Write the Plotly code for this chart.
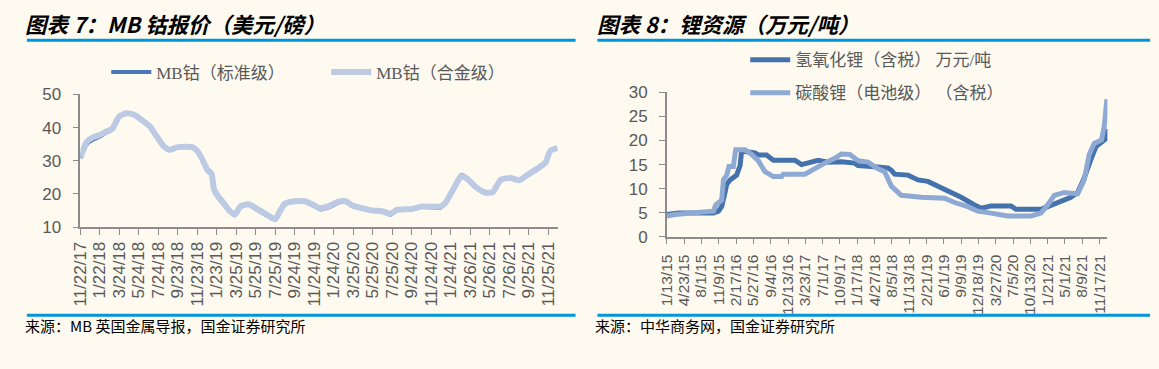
import pandas as pd
import plotly.graph_objects as go

# ---------------- Data: left chart (MB cobalt, USD/lb) ----------------
co_dates = ["2017-11-22", "2017-12-12", "2018-01-01", "2018-01-22", "2018-02-11", "2018-03-02",
            "2018-03-13", "2018-03-23", "2018-04-14", "2018-05-10", "2018-05-31", "2018-06-26",
            "2018-07-17", "2018-08-06", "2018-08-27", "2018-09-22", "2018-11-07", "2018-11-23",
            "2018-12-08", "2018-12-24", "2019-01-06", "2019-01-14", "2019-01-29", "2019-02-14",
            "2019-03-01", "2019-03-20", "2019-04-06", "2019-05-02", "2019-05-28", "2019-06-28",
            "2019-07-24", "2019-08-08", "2019-08-24", "2019-09-24", "2019-10-25", "2019-11-20",
            "2019-12-13", "2020-01-10", "2020-02-05", "2020-03-01", "2020-03-22", "2020-04-22",
            "2020-05-23", "2020-06-23", "2020-07-19", "2020-08-08", "2020-09-24", "2020-10-25",
            "2020-12-21", "2021-01-05", "2021-01-26", "2021-02-11", "2021-02-26", "2021-03-19",
            "2021-04-08", "2021-05-09", "2021-06-03", "2021-06-29", "2021-07-30", "2021-08-25",
            "2021-09-20", "2021-10-21", "2021-11-16", "2021-12-01", "2021-12-22"]
co_alloy = [31.0, 35.7, 37.1, 37.8, 38.8, 39.7, 41.6, 43.3, 44.3, 43.8, 42.4, 40.5,
            37.6, 34.8, 33.3, 34.1, 34.1, 32.9, 30.5, 27.3, 26.2, 21.4, 19.0, 17.1,
            15.2, 13.8, 16.2, 16.9, 15.5, 13.8, 12.4, 14.8, 17.1, 17.8, 17.8, 16.7,
            15.7, 16.4, 17.6, 17.8, 16.5, 15.7, 15.0, 14.8, 14.0, 15.2, 15.5, 16.2,
            16.2, 17.1, 20.5, 23.3, 25.4, 24.3, 22.4, 20.5, 20.5, 24.3, 24.8, 24.1,
            25.7, 27.6, 29.5, 33.0, 33.8]
co_std = [30.8, 35.0, 36.4, 37.3, 38.5, 39.5, 41.5, 43.3, 44.3, 43.8, 42.2, 40.2,
          37.4, 34.8, 33.3, 34.1, 34.1, 32.9, 30.3, 27.0, 25.8, 21.0, 18.6, 16.8,
          15.0, 13.6, 16.0, 16.8, 15.2, 13.5, 12.3, 14.8, 17.0, 17.8, 17.8, 16.6,
          15.3, 16.0, 17.3, 17.6, 16.3, 15.5, 14.9, 14.7, 13.7, 15.2, 15.3, 16.2,
          15.8, 17.3, 20.5, 23.5, 25.8, 24.5, 22.2, 20.4, 20.5, 24.3, 24.8, 24.1,
          25.7, 27.6, 29.5, 33.0, 33.8]
co_ticks = ["11/22/17", "1/22/18", "3/24/18", "5/24/18", "7/24/18", "9/23/18", "11/23/18",
            "1/23/19", "3/25/19", "5/25/19", "7/25/19", "9/24/19", "11/24/19", "1/24/20",
            "3/25/20", "5/25/20", "7/25/20", "9/24/20", "11/24/20", "1/24/21", "3/26/21",
            "5/26/21", "7/26/21", "9/25/21", "11/25/21"]

# ---------------- Data: right chart (lithium, 10k CNY/t) ----------------
lioh_dates = ["2015-01-13", "2015-03-21", "2015-06-06", "2015-10-09", "2015-11-07", "2015-11-26",
              "2015-12-15", "2015-12-25", "2016-01-13", "2016-02-20", "2016-03-11", "2016-03-20",
              "2016-04-28", "2016-06-05", "2016-06-24", "2016-08-11", "2016-09-19", "2017-01-22",
              "2017-03-01", "2017-04-28", "2017-06-05", "2017-08-02", "2017-10-18", "2018-01-02",
              "2018-01-22", "2018-04-08", "2018-07-13", "2018-08-02", "2018-08-21", "2018-11-06",
              "2019-01-03", "2019-03-01", "2019-06-05", "2019-09-09", "2019-11-25", "2020-01-03",
              "2020-02-29", "2020-06-23", "2020-07-22", "2020-12-13", "2021-01-21", "2021-03-19",
              "2021-06-04", "2021-07-13", "2021-08-20", "2021-09-28", "2021-10-27", "2021-12-14",
              "2021-12-22", "2021-12-29"]
lioh_vals = [4.6, 4.9, 4.9, 4.9, 5.3, 6.3, 9.2, 10.9, 11.8, 12.8, 14.8, 17.8,
             17.6, 17.4, 17.0, 17.0, 15.9, 15.9, 15.0, 15.6, 15.9, 15.5, 15.6, 15.3,
             14.8, 14.6, 14.3, 13.8, 13.0, 12.8, 11.8, 11.5, 9.9, 8.2, 6.6, 5.9,
             6.4, 6.4, 5.7, 5.7, 6.25, 7.1, 8.2, 9.2, 12.2, 16.1, 18.75, 20.1,
             20.3, 22.4]
li2co3_dates = ["2015-01-13", "2015-03-02", "2015-06-06", "2015-10-09", "2015-10-22", "2015-11-26",
                "2015-12-06", "2015-12-25", "2016-01-07", "2016-02-01", "2016-02-15", "2016-04-08",
                "2016-05-17", "2016-06-24", "2016-08-02", "2016-09-19", "2016-11-06", "2016-11-15",
                "2017-03-20", "2017-05-17", "2017-07-13", "2017-09-09", "2017-10-18", "2017-12-05",
                "2018-01-22", "2018-03-20", "2018-05-17", "2018-06-24", "2018-08-02", "2018-09-28",
                "2019-01-22", "2019-06-05", "2019-08-02", "2019-10-18", "2019-12-14", "2020-02-29",
                "2020-06-04", "2020-10-17", "2020-12-13", "2021-01-21", "2021-02-28", "2021-04-27",
                "2021-07-13", "2021-08-20", "2021-09-18", "2021-10-17", "2021-11-28", "2021-12-14",
                "2021-12-29"]
li2co3_vals = [4.3, 4.6, 4.9, 5.3, 6.6, 7.6, 11.8, 12.8, 14.6, 14.6, 18.1, 18.1,
               17.1, 15.8, 13.5, 12.5, 12.5, 13.0, 13.0, 14.3, 15.3, 16.3, 17.2, 17.1,
               15.8, 15.5, 14.1, 13.5, 10.5, 8.6, 8.2, 8.0, 7.1, 6.25, 5.3, 4.9,
               4.3, 4.3, 4.9, 6.6, 8.6, 9.2, 8.9, 11.8, 17.1, 19.4, 20.1, 23.0,
               28.6]
li_ticks = ["1/13/15", "4/23/15", "8/1/15", "11/9/15", "2/17/16", "5/27/16", "9/4/16",
            "12/13/16", "3/23/17", "7/1/17", "10/9/17", "1/17/18", "4/27/18", "8/5/18",
            "11/13/18", "2/21/19", "6/1/19", "9/9/19", "12/18/19", "3/27/20", "7/5/20",
            "10/13/20", "1/21/21", "5/1/21", "8/9/21", "11/17/21"]

# ---------------- Styling ----------------
W, H = 1159, 369
BG = "#FEFAF0"
AXIS = "#8C8C8C"
TXT = "#595959"
RULE = "#0096DB"
SANS = "Liberation Sans, Arial, sans-serif"
SERIF = "Liberation Serif, Noto Sans CJK SC, serif"
CJK = "Noto Sans CJK SC, sans-serif"


def px(x):
    return x / W


def py(y):
    return (H - y) / H


fig = go.Figure()

fig.add_trace(go.Scatter(x=co_dates, y=co_std, mode="lines", name="MB钴（标准级）",
                         line=dict(color="#4A78B8", width=4, shape="spline", smoothing=0.6),
                         xaxis="x", yaxis="y", legend="legend"))
fig.add_trace(go.Scatter(x=co_dates, y=co_alloy, mode="lines", name="MB钴（合金级）",
                         line=dict(color="#BCCBE3", width=6, shape="spline", smoothing=0.6),
                         xaxis="x", yaxis="y", legend="legend"))

fig.add_trace(go.Scatter(x=lioh_dates, y=lioh_vals, mode="lines", name="氢氧化锂（含税） 万元/吨",
                         line=dict(color="#4472AC", width=5),
                         xaxis="x2", yaxis="y2", legend="legend2", legendgroup="a"))
fig.add_trace(go.Scatter(x=li2co3_dates, y=li2co3_vals, mode="lines", name="碳酸锂（电池级） （含税）",
                         line=dict(color="#8EA9D4", width=5),
                         xaxis="x2", yaxis="y2", legend="legend2", legendgroup="b"))

co_tickvals = pd.to_datetime(co_ticks, format="%m/%d/%y")
li_tickvals = pd.to_datetime(li_ticks, format="%m/%d/%y")

common_axis = dict(showgrid=False, zeroline=False, showline=True, linecolor=AXIS, linewidth=1.5,
                   ticks="outside", tickcolor=AXIS, ticklen=6, tickwidth=1.2)

fig.update_layout(
    width=W, height=H,
    paper_bgcolor=BG, plot_bgcolor=BG,
    margin=dict(l=0, r=0, t=0, b=0),
    xaxis=dict(domain=[px(72), px(553)], range=["2017-11-22", "2021-12-24"],
               tickmode="array", tickvals=co_tickvals, ticktext=co_ticks, tickangle=-90,
               anchor="y", tickfont=dict(family=SANS, size=17, color=TXT), **common_axis),
    yaxis=dict(domain=[py(230), py(90)], range=[10, 50], dtick=10, tickmode="linear", tick0=10,
               anchor="x", ticklabelstandoff=8,
               tickfont=dict(family=SANS, size=17, color=TXT), **common_axis),
    xaxis2=dict(domain=[px(663), px(1107)], range=["2015-01-13", "2022-01-01"],
                tickmode="array", tickvals=li_tickvals, ticktext=li_ticks, tickangle=-90,
                anchor="y2", ticklabelstandoff=4,
                tickfont=dict(family=SANS, size=15.5, color=TXT), **common_axis),
    yaxis2=dict(domain=[py(240), py(88)], range=[0, 30], dtick=5, tickmode="linear", tick0=0,
                anchor="x2", ticklabelstandoff=8,
                tickfont=dict(family=SANS, size=17, color=TXT), **common_axis),
    legend=dict(orientation="h", x=px(98), y=py(67), xanchor="left", yanchor="middle",
                font=dict(family=SERIF, size=17, color=TXT), bgcolor="rgba(0,0,0,0)",
                entrywidth=165, itemwidth=40),
    legend2=dict(orientation="v", x=px(742), y=py(35), xanchor="left", yanchor="top",
                 font=dict(family=SERIF, size=17, color=TXT), bgcolor="rgba(0,0,0,0)",
                 tracegroupgap=8, itemwidth=40),
    showlegend=True,
)

# Titles
fig.add_annotation(x=px(14), y=py(15), xref="paper", yref="paper", xanchor="left", yanchor="middle",
                   text="图表 7：MB 钴报价（美元/磅）", showarrow=False,
                   font=dict(family=CJK, size=21.5, color="#000000", weight="bold", style="italic"))
fig.add_annotation(x=px(591), y=py(15), xref="paper", yref="paper", xanchor="left", yanchor="middle",
                   text="图表 8：锂资源（万元/吨）", showarrow=False,
                   font=dict(family=CJK, size=21.5, color="#000000", weight="bold", style="italic"))

# Sources
fig.add_annotation(x=px(14), y=py(334), xref="paper", yref="paper", xanchor="left", yanchor="middle",
                   text="来源：MB 英国金属导报，国金证券研究所", showarrow=False,
                   font=dict(family=CJK, size=15, color="#000000"))
fig.add_annotation(x=px(589), y=py(334), xref="paper", yref="paper", xanchor="left", yanchor="middle",
                   text="来源：中华商务网，国金证券研究所", showarrow=False,
                   font=dict(family=CJK, size=15, color="#000000"))

# Blue rules
for x0, x1 in [(18, 571), (593, 1150)]:
    for yy in (33, 323):
        fig.add_shape(type="line", xref="paper", yref="paper", x0=px(x0), x1=px(x1),
                      y0=py(yy), y1=py(yy), line=dict(color=RULE, width=3))

fig.write_html(
    "out.html",
    config={"displayModeBar": False},
    post_script="document.body.style.margin='0';document.body.style.padding='0';"
                "document.body.style.overflow='hidden';",
)
